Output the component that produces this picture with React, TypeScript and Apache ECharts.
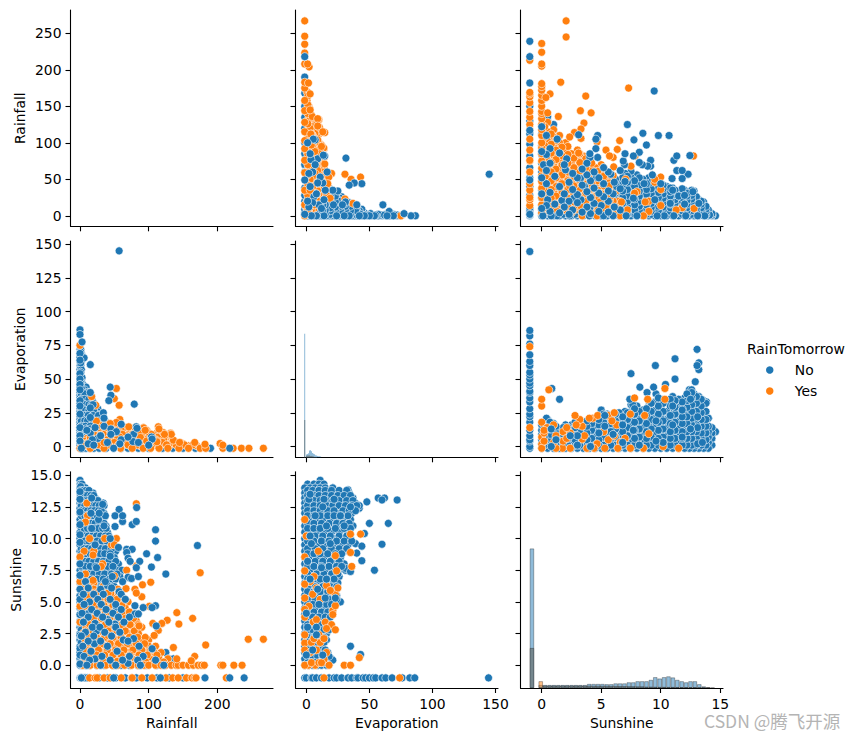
import React, { useEffect, useRef } from "react";
import * as echarts from "echarts";

type Rows = [number, number[]][];
type Pts = [number, number][];

const BLUE = "#1f77b4";
const ORANGE = "#ff7f0e";
const MISSING_EVAP = -1.3;

const rainTicks = [0, 100, 200];
const rainTicksY = [0, 50, 100, 150, 200, 250];
const evapTicks = [0, 50, 100, 150];
const evapTicksY = [0, 25, 50, 75, 100, 125, 150];
const sunTicks = [0, 5, 10, 15];
const sunTicksY = [0, 2.5, 5, 7.5, 10, 12.5, 15];

/* Rainfall against Sunshine: rows are [sunshine, [rainfall...]] */
const rainSunNoBase: Rows = [
  [14.6, [0]], [14.3, [0, 1, 3]], [14, [0, 2, 5, 8]], [13.6, [0, 3, 7, 11, 15, 19]],
  [13.2, [0, 4, 9, 13, 18, 22]], [12.8, [0, 3, 8, 14, 19, 24, 30, 34]], [12.4, [0, 5, 10, 15, 21, 26, 33]],
  [12, [0, 4, 9, 13, 18, 24, 29, 35]], [11.5, [0, 5, 11, 16, 22, 27, 34]], [11, [0, 4, 8, 14, 19, 25, 32, 38]],
  [10.5, [0, 6, 12, 17, 23, 29, 35, 40]], [10, [0, 4, 9, 15, 21, 27, 33, 41, 44]], [9.5, [0, 5, 11, 17, 24, 30, 38, 46]],
  [9, [0, 3, 8, 14, 20, 27, 34, 43, 52]], [8.5, [0, 6, 12, 18, 26, 33, 41, 50]], [8, [0, 4, 10, 16, 23, 30, 38, 47, 56]],
  [7.5, [0, 5, 12, 19, 27, 35, 44, 53, 61]], [7, [0, 3, 9, 16, 24, 32, 41, 50, 58]], [6.5, [0, 6, 13, 21, 30, 39, 48]],
  [6, [0, 4, 10, 18, 27, 36, 46, 55]], [5.5, [0, 5, 13, 22, 32, 44, 60]], [5, [0, 3, 9, 17, 27, 38, 50]],
  [4.5, [0, 6, 14, 24, 36, 48]], [4, [0, 4, 11, 20, 31, 43]], [3.5, [0, 7, 16, 26, 38]], [3, [0, 3, 11, 21, 33]],
  [2.5, [0, 6, 15, 26]], [2, [0, 4, 12, 22]], [1.5, [0, 7, 17]], [1, [0, 3, 11, 105, 118, 125]], [0.5, [0, 6, 14, 130, 136]],
  [0, [0, 3, 8, 14, 24, 35, 48, 60, 72, 84, 96, 112]],
  [-1, [0, 1, 2, 4, 6, 8, 11, 28, 40, 52, 66, 82, 98, 112, 130, 150]],
];
const rainSunNoFill: Rows = [
  [14.1, [1]], [13.8, [1, 5, 9, 13]], [13.4, [1, 6, 11, 16, 20]], [13, [1, 6, 11, 16, 21, 26]], [12.6, [2, 7, 12, 18, 23, 28, 35]],
  [12.2, [2, 7, 11, 16, 21, 27, 31]], [11.8, [2, 7, 11, 16, 20, 25, 31, 37]], [11.2, [2, 7, 12, 17, 22, 29, 35]], [10.8, [2, 6, 11, 16, 21, 27, 33, 38]],
  [10.2, [2, 7, 12, 18, 24, 30, 37, 42]], [9.8, [2, 7, 13, 19, 25, 32, 39]], [9.2, [2, 6, 11, 17, 24, 30, 37, 46]], [8.8, [2, 8, 15, 22, 29, 36, 44]],
  [8.2, [2, 7, 13, 20, 27, 34, 42, 52]], [7.8, [2, 8, 15, 23, 31, 40, 48]], [7.2, [2, 6, 12, 20, 28, 36, 46, 54]], [6.8, [2, 9, 17, 25, 34, 43, 52]],
  [6.2, [2, 7, 14, 22, 31, 41, 50]], [5.8, [2, 8, 16, 26, 36, 48]], [5.2, [2, 6, 13, 22, 32, 44]], [4.8, [2, 9, 18, 29, 41]], [4.2, [2, 7, 15, 25, 36]],
  [3.8, [2, 10, 20, 31]], [3.2, [2, 7, 16, 27]], [2.8, [2, 9, 20]], [2.2, [2, 7, 17]], [1.8, [2, 10]], [1.2, [2, 6]], [0.7, [2, 9]], [0.3, [2, 5, 10]],
];
const rainSunYes: Rows = [
  [12.8, [10]], [11.8, [11]], [11.3, [8]], [10, [14, 36, 53]], [9.5, [46, 50]], [9, [6, 20]], [8.7, [19]], [8, [33]],
  [7.2, [8]], [6.5, [4, 12, 20]],
  [6, [4, 12, 20, 31, 42, 55]], [5.5, [7, 16, 26, 38, 50, 60]], [5, [3, 12, 22, 33, 45, 58, 70]], [4.5, [6, 16, 28, 40, 52, 66]],
  [4, [9, 19, 30, 42, 55, 68, 76]], [3.5, [5, 14, 25, 36, 48, 60, 72, 82]], [3, [9, 19, 30, 42, 55, 66, 78, 90]],
  [2.5, [4, 13, 24, 35, 47, 60, 72, 85]], [2, [8, 18, 30, 42, 54, 66, 78, 90, 100]],
  [1.5, [5, 14, 25, 37, 50, 62, 75, 88, 100, 110]], [1, [3, 11, 21, 33, 46, 58, 70, 83, 95, 108, 118]],
  [0.5, [7, 17, 28, 40, 52, 64, 76, 90, 102, 115, 128]],
  [5.7, [10, 21, 33, 45, 56]], [5.2, [7, 18, 29, 41, 54, 66]], [4.7, [11, 23, 35, 48, 61]], [4.2, [14, 25, 37, 50, 62, 72]],
  [3.7, [10, 20, 31, 43, 55, 66, 78]], [3.2, [14, 25, 37, 49, 61, 73, 85]], [2.7, [9, 19, 30, 41, 54, 66, 79]], [2.2, [13, 24, 36, 48, 60, 72, 84, 95]],
  [1.7, [10, 20, 31, 44, 56, 69, 82, 94]], [1.2, [8, 16, 27, 40, 52, 64, 77, 90, 103]], [0.8, [13, 24, 36, 48, 60, 73, 86, 98, 112]],
  [0.25, [11, 22, 34, 46, 58, 70, 83, 96, 108, 122]],
  [0, [4, 15, 25, 38, 47, 55, 65, 75, 85, 93, 100, 110, 118, 125, 133, 140, 143, 150, 158, 165, 172, 177, 181, 205, 208, 224, 236]],
  [-1, [14, 22, 25, 35, 44, 60, 75, 76, 90, 105, 118, 125, 135, 143, 155, 163, 167, 169, 213]],
  [12.75, [82]], [7.3, [175]], [7.85, [82]], [7.5, [68]], [7.8, [31]], [7.05, [50]], [6.55, [103]], [6.35, [91]],
  [6.05, [67]], [6, [80]], [5.4, [90, 14]], [5.7, [82, 41]], [4.65, [101, 0]], [4.15, [141]], [3.7, [164]], [3.25, [144]],
  [3.55, [127]], [3.3, [119, 106]], [2.75, [114]], [2.35, [108, 41]], [3.1, [86]], [1.4, [136]], [1.6, [183]], [2.05, [245, 267]],
  [0.7, [167]], [0.5, [141]], [0.35, [162]], [6.7, [19]], [6.25, [34]], [6.6, [0]], [8.55, [0]], [3.4, [0]], [4.9, [19]], [5.8, [27]],
  [4.2, [44]], [0.3, [54]],
];
const rainSunNoTop: Rows = [
  [9.45, [171]], [7.2, [125]], [10.7, [110]], [9.8, [110]], [8.5, [113]], [8.8, [97]], [7.75, [104]], [11.1, [76]], [11.35, [82, 62]],
  [12.45, [82.5]], [12.3, [57]], [11.8, [51, 62]], [10.95, [51]], [9.15, [68, 76]], [9.3, [56]], [8.9, [68]], [8.45, [70]], [8.2, [73, 87]],
  [7.7, [82]], [6.95, [70]], [6.85, [75]], [7, [85]], [4.7, [80, 110]], [4.55, [105, 92]], [4.05, [80, 85, 11]], [3.1, [111]], [1.3, [105]],
  [2.1, [78]], [0.15, [70]], [5.8, [57]], [4.6, [53]], [3.25, [51]], [2, [63]], [1.7, [21]], [0.5, [22]], [2.7, [24]], [3.3, [22]],
  [13.7, [0]], [13.1, [0]], [12.1, [0]], [11.1, [0]], [10.3, [0]], [9.7, [0]], [8, [0]], [7.1, [0]], [6, [0, 30]], [5.2, [0]], [4, [0]],
  [2.35, [0]], [1.3, [0]], [0.8, [0]], [0.1, [0]], [13.2, [17]], [10.8, [17]], [11.5, [27]], [12, [28, 16]], [11, [35]], [12.7, [33]],
  [10, [44]], [8.6, [44]], [9.5, [22]], [7, [47]], [6.3, [40]], [5, [14]], [7.7, [24]], [3.6, [40]],
  [-1, [2, 49, 117, 182, 218, 239]],
  [6.6, [8, 37, 62]], [6.1, [12, 46]], [5.6, [5, 20, 34, 60]], [5.2, [26, 44, 66]], [4.8, [6, 31, 52]], [4.4, [17, 38, 60]], [4.1, [3, 25, 48]],
  [3.8, [12, 33, 56, 72]], [3.4, [5, 42, 64]], [3, [18, 29, 52]], [2.6, [8, 36, 58]], [2.3, [2, 20, 46]], [1.9, [12, 30, 70]], [1.5, [4, 40, 86]],
  [1.1, [16, 54]], [0.7, [6, 32, 72, 92]], [0.4, [14, 44, 62, 84, 110]], [0, [10, 30, 52, 88, 122]],
];

/* Rainfall against Evaporation: rows are [evaporation, [rainfall...]] */
const rainEvapNoBase: Rows = [
  [75, [0]], [72, [0, 1]], [69, [0, 2]], [66, [0]], [63, [0, 2]], [60, [0, 1]], [57, [0, 2]], [54, [0, 1]], [51, [0, 3]], [48, [0, 2]],
  [46, [0, 4]], [44, [0, 5, 9]], [42, [0, 3, 7]], [40, [0, 4, 10, 14]], [38, [0, 6, 12]], [36, [0, 3, 9, 15]], [34, [0, 5, 11, 18]],
  [32, [0, 3, 8, 14, 20]], [30, [0, 5, 11, 18, 23]], [28, [0, 3, 8, 15, 22, 26]], [26, [0, 5, 11, 18, 25]], [24, [0, 3, 9, 16, 24, 31]],
  [22, [0, 6, 13, 21, 29, 34]], [20, [0, 3, 9, 17, 25, 33]], [18, [0, 6, 13, 21, 30, 38]], [16, [0, 3, 10, 18, 27, 36, 42]],
  [14, [0, 6, 14, 23, 33, 44, 50]], [12, [0, 3, 10, 19, 29, 40, 52]], [10, [0, 6, 14, 24, 35, 47, 58, 70]], [8, [0, 3, 10, 19, 30, 42, 55, 68]],
  [6, [0, 6, 15, 26, 38, 50, 64, 80]], [4, [0, 3, 11, 21, 33, 46, 60, 76, 92]], [2, [0, 7, 16, 28, 41, 56, 72, 90]], [0.5, [0, 4, 12, 24, 38, 52]],
  [-1, [0, 1, 2, 5, 9, 14, 20, 28, 38, 60, 70, 85, 100, 120, 135, 150, 168, 190]],
];
const rainEvapNoFill: Rows = [
  [70, [1]], [62, [1]], [55, [1]], [47, [1]], [43, [2]], [39, [2, 7]], [35, [2, 7, 13]], [31, [2, 7, 13, 17]], [27, [2, 7, 13, 20]], [23, [2, 7, 12, 19, 27]],
  [19, [2, 7, 11, 19, 27, 35]], [15, [2, 8, 15, 24, 32, 40, 47]], [13, [2, 8, 15, 24, 35, 46]], [11, [2, 8, 17, 27, 38, 50, 62]], [9, [2, 8, 16, 26, 38, 50, 62]],
  [7, [2, 9, 19, 31, 44, 58, 72]], [5, [2, 8, 17, 28, 42, 56, 70, 84]], [3, [2, 6, 13, 24, 37, 50, 66, 82]], [1.2, [2, 9, 20, 34, 48, 64]],
];
const rainEvapYes: Rows = [
  [16, [28, 40, 55]], [14, [25, 38, 52, 66, 80, 92]], [12, [22, 35, 48, 60, 74, 86, 97]], [10, [18, 30, 44, 58, 72, 85, 100, 112, 122, 132]],
  [8, [14, 26, 40, 54, 68, 82, 96, 110, 124]], [6, [10, 22, 36, 50, 64, 78, 92, 106, 118, 130]],
  [4, [8, 18, 30, 44, 58, 72, 86, 100, 114, 128, 138]], [2, [5, 14, 26, 40, 54, 68, 82, 96, 110, 124, 138, 150]],
  [0.5, [3, 10, 20, 32, 46, 60, 74, 88, 102, 116, 130, 144, 158, 170]],
  [9, [20, 34, 48, 62, 76, 90, 104, 118]], [7, [16, 30, 44, 58, 72, 86, 100, 114, 126]], [5, [15, 26, 40, 54, 68, 82, 96, 110, 122, 134]],
  [3, [12, 24, 36, 50, 64, 78, 92, 106, 120, 134, 146]], [1.2, [8, 17, 28, 42, 56, 70, 84, 98, 112, 126, 140, 152, 164]],
  [-1, [0, 15, 35, 59, 76, 92, 103, 115, 128, 144, 158, 175, 183, 208, 223, 235, 246, 267]],
  [75, [0]], [43, [53]], [35.5, [50]], [37, [17]], [30.6, [23, 57]], [20, [58]], [17.8, [53]], [18.8, [24]], [14.6, [114, 71]], [13.8, [93]],
  [10.4, [121]], [9.6, [132]], [17, [44]], [11, [87]], [6.7, [88]], [4.7, [136]], [3, [145, 167, 35]], [1.7, [182]], [2.2, [204]], [1, [208]],
  [4.2, [112]], [4, [97]], [8.4, [30]], [6.4, [15]], [12, [95]], [9, [133, 123]], [3.5, [112]], [13, [115]],
];
const rainEvapNoTop: Rows = [
  [145, [57]], [86.5, [0]], [83, [0]], [77.5, [3]], [65.7, [6]], [60.7, [15]], [69, [0]], [64, [0]], [54, [0]], [50, [0]], [46, [0]], [42, [0]],
  [34, [0]], [30, [0]], [24, [0]], [14, [0]], [8, [0]], [4, [0]], [44, [44]], [38, [45]], [34, [42]], [31.4, [79]], [40, [15]], [31, [19]],
  [28.6, [15]], [21.5, [15]], [25, [34]], [21, [35]], [15, [35]], [13, [45]], [11, [53]], [14.6, [82]], [9, [78]], [7, [104]], [13.5, [83]], [5.5, [105]],
  [16.5, [60]], [3.7, [77]], [10, [15]], [6, [26]], [3, [40]], [12, [10]], [5, [18]], [8, [30]], [2, [12]], [14, [22]], [9, [45]], [5, [60]], [1, [20]],
  [7, [70]], [2, [58]], [3, [85]], [1, [100]], [-1, [2, 49, 218]],
];

/* Evaporation against Sunshine: rows are [sunshine, [evaporation...]] */
const evapSunNoBase: Rows = [
  [14.6, [11]], [14.3, [1, 6, 10, 14]], [14, [-1, 3, 7, 11, 15, 21]], [13.6, [-1, 3, 8, 13, 18, 23, 30, 34]], [13.2, [-1, 3, 8, 12, 17, 22, 27, 32, 37]],
  [12.8, [-1, 4, 9, 14, 19, 24, 29, 35, 39]], [12.4, [-1, 3, 8, 13, 18, 23, 28, 33, 38, 42]], [12, [-1, 4, 9, 15, 20, 26, 31, 36]],
  [11.5, [-1, 3, 8, 14, 19, 25, 30, 35]], [11, [-1, 4, 10, 15, 21, 27, 32, 37]], [10.5, [-1, 3, 8, 14, 20, 26, 33]], [10, [-1, 4, 10, 16, 22, 29, 35]],
  [9.5, [-1, 3, 9, 15, 21, 27, 33]], [9, [-1, 5, 10, 17, 23, 30]], [8.5, [-1, 3, 8, 14, 20, 26]], [8, [-1, 4, 10, 16, 22, 30]],
  [7.5, [-1, 3, 9, 15, 21, 26, 31]], [7, [-1, 5, 11, 17, 23, 26]], [6.5, [-1, 3, 8, 14, 20, 25]], [6, [-1, 4, 10, 16, 22]], [5.5, [-1, 3, 8, 14, 19, 24]],
  [5, [-1, 4, 10, 15, 21, 27]], [4.5, [-1, 3, 8, 13, 18]], [4, [-1, 4, 9, 14, 19]], [3.5, [-1, 3, 7, 12, 17]], [3, [-1, 4, 9, 13, 18]],
  [2.5, [-1, 3, 7, 11, 16]], [2, [-1, 4, 8, 12, 16]], [1.5, [-1, 3, 7, 11]], [1, [-1, 4, 8, 13, 17]], [0.5, [-1, 3, 7, 11, 15, 20]], [0, [-1, 2, 5, 9, 12, 16]],
  [13.2, [57, 62]], [13.05, [60, 72]], [13.85, [33]], [14, [21]], [12.6, [42]], [12.9, [48]], [11.2, [50, 65]], [10.4, [46]], [9.55, [60]], [9.6, [39]],
  [9.4, [44]], [9.05, [33]], [8.85, [40]], [8.5, [27]], [8.25, [44]], [7.5, [54]], [7.65, [31]], [7.4, [35]], [1.5, [35]], [0.85, [43]], [0.4, [21]],
  [5, [27]], [6, [24]],
  [-1, [-1, 0, 4, 5, 8, 12, 18, 22, 24, 28, 33, 36, 40, 41, 45, 47, 50, 53, 55, 60, 63, 68, 76, 82, 86, 144.5]],
];
const evapSunNoFill: Rows = [
  [13.8, [1, 5, 10, 15, 20, 26, 32]], [13.4, [1, 6, 10, 15, 20, 25, 30, 35]], [13, [1, 6, 11, 16, 21, 26, 32, 37]], [12.6, [1, 6, 11, 16, 21, 26, 31, 36, 40]],
  [12.2, [1, 6, 11, 17, 22, 29, 34, 39]], [11.8, [1, 6, 11, 17, 22, 28, 33]], [11.2, [1, 6, 12, 18, 24, 29, 34]], [10.8, [1, 6, 11, 17, 23, 30, 35]],
  [10.2, [1, 7, 13, 19, 26, 32]], [9.8, [1, 6, 12, 18, 24, 30, 36]], [9.2, [1, 7, 13, 20, 26, 32]], [8.8, [1, 6, 11, 17, 23, 28]], [8.2, [1, 7, 13, 19, 26]],
  [7.8, [1, 6, 12, 18, 24, 28]], [7.2, [1, 8, 14, 20, 25]], [6.8, [1, 6, 11, 17, 22]], [6.2, [1, 7, 13, 19, 24]], [5.8, [1, 6, 11, 17, 21]], [5.2, [1, 7, 12, 18, 24]],
  [4.8, [1, 5, 11, 16, 20]], [4.2, [1, 6, 12, 17]], [3.8, [1, 5, 10, 15, 19]], [3.2, [1, 6, 11, 16]], [2.8, [1, 5, 9, 14, 18]], [2.2, [1, 6, 10, 14]],
  [1.8, [1, 5, 9, 14]], [1.2, [1, 6, 10, 15]], [0.7, [1, 5, 9, 13, 18]], [0.2, [1, 4, 7, 11, 14]],
];
const evapSunYes: Rows = [
  [10.35, [43, 35]], [8.9, [35]], [8.65, [23]], [7.8, [36]], [7.45, [24]], [0.6, [42]], [0, [30, 35, 18, 7, 1.6, -1]], [4.3, [21]], [4, [21]], [3.4, [15, 5.5]],
  [3.2, [20]], [2.8, [23]], [4.65, [2]], [6.6, [3]], [8.55, [-1]], [9, [9.5]], [7.45, [-1]], [1.75, [-1]], [1.8, [4, 11]], [0.45, [14]],
  [5.6, [5, 23]], [6.1, [8, 25]], [7, [6]], [5.2, [11]], [3.8, [-1]], [2.4, [-1, 10]], [1.2, [-1, 8]], [-1, [14, 74]],
  [11.5, [-1]], [10.2, [0]], [6.4, [-1]], [5.3, [-1]], [4.4, [-1]],
  [6.3, [16]], [5.9, [19]], [4.7, [23]], [3.6, [8]], [2.9, [16]], [2.1, [6, 14]], [1, [3, 16]], [0.2, [4, 10, 12]],
];
const evapSunNoTop: Rows = [
  [13.1, [2, 14, 22]], [13.5, [3]], [12.5, [13, 35]], [11.8, [7, 27]], [11, [16, 30]], [10.2, [3]], [9.6, [4, 19]], [8.2, [1]],
  [7.7, [12]], [6.8, [3, 16]], [6, [9]], [5.3, [15, 23]], [4.8, [10]], [4.1, [0]], [3, [1, 8]], [2.4, [8]], [1.2, [5]], [0.8, [0, 13]],
];

const sunBins = [-0.82, -0.45, -0.08, 0.29, 0.66, 1.03, 1.4, 1.77, 2.14, 2.51, 2.88, 3.25, 3.62, 3.99, 4.36, 4.73, 5.1, 5.47, 5.84, 6.21, 6.58, 6.95, 7.32, 7.69, 8.06, 8.43, 8.8, 9.17, 9.54, 9.91, 10.28, 10.65, 11.02, 11.39, 11.76, 12.13, 12.5, 12.87, 13.24, 13.61, 13.98, 14.35];
const sunNo = [51600, 0, 1100, 1100, 1100, 1100, 1100, 1100, 1100, 1100, 1100, 1100, 1100, 1500, 1500, 1500, 1500, 1400, 1400, 1700, 1700, 1700, 2100, 2100, 2500, 2500, 2500, 3000, 4000, 3500, 4000, 4300, 3900, 3000, 2500, 2100, 2500, 2500, 1400, 600, 250, 120];
const sunYes = [14800, 0, 2500, 900, 900, 900, 900, 900, 900, 900, 900, 900, 850, 850, 800, 800, 800, 800, 750, 750, 700, 700, 650, 650, 600, 600, 500, 500, 450, 400, 400, 380, 380, 350, 300, 280, 280, 250, 150, 80, 30, 0];
const evapBins = [-1.3, 0.1, 0.9, 1.7, 2.5, 3.3, 4.1, 4.9, 5.7, 6.5, 7.3, 8.1, 8.9, 9.7, 10.5, 11.3];
const evapNo = [45700, 1000, 1250, 1500, 2500, 2600, 2200, 1600, 1350, 1100, 750, 620, 500, 370, 370, 250];
const evapYes = [13800, 600, 620, 620, 620, 500, 450, 350, 250, 120, 120, 100, 60, 60, 30, 30];

const FONT = "DejaVu Sans";
const expand = (rows: Rows): Pts => rows.flatMap(([b, as]) => as.map((a) => [a, b] as [number, number]));
const swap = (p: Pts): Pts => p.map(([a, b]) => [b, a] as [number, number]);
const fixEvap = (rows: Rows): Rows => rows.map(([b, as]) => [b, as.map((a) => (a === -1 ? MISSING_EVAP : a))]);
const fixEvapRows = (rows: Rows): Rows => rows.map(([b, as]) => [b === -1 ? MISSING_EVAP : b, as]);

const colLeft = [70.5, 295.5, 520.5];
const rowTop = [10, 241, 471.7];
const PANEL_W = 202.5;
const PANEL_H = 216.3;

const xDefs = [
  { name: "Rainfall", min: -13.8, max: 281, ticks: rainTicks, digits: 0 },
  { name: "Evaporation", min: -8.6, max: 152, ticks: evapTicks, digits: 0 },
  { name: "Sunshine", min: -1.78, max: 15.23, ticks: sunTicks, digits: 0 },
];
const yDefs = [
  { name: "Rainfall", min: -14.4, max: 281.9, ticks: rainTicksY, digits: 0, gap: 44 },
  { name: "Evaporation", min: -8, max: 152.3, ticks: evapTicksY, digits: 0, gap: 44 },
  { name: "Sunshine", min: -1.8, max: 15.28, ticks: sunTicksY, digits: 1, gap: 48 },
];

function buildOption() {
  const grid: any[] = [];
  const xAxis: any[] = [];
  const yAxis: any[] = [];
  const series: any[] = [];
  const line = { show: true, onZero: false, lineStyle: { color: "#000", width: 1.1 } };

  for (let r = 0; r < 3; r++) {
    for (let c = 0; c < 3; c++) {
      const gi = r * 3 + c;
      grid.push({ left: colLeft[c], top: rowTop[r], width: PANEL_W, height: PANEL_H });
      const xd = xDefs[c];
      const yd = yDefs[r];
      xAxis.push({
        type: "value", gridIndex: gi, min: xd.min, max: xd.max, splitLine: { show: false },
        axisLine: line,
        axisTick: { show: true, length: 5, customValues: xd.ticks, lineStyle: { color: "#000", width: 1.1 } },
        axisLabel: {
          show: r === 2, customValues: xd.ticks, margin: 9, color: "#000", fontFamily: FONT, fontSize: 13.9,
          hideOverlap: false, showMinLabel: true, showMaxLabel: true,
        },
        name: r === 2 ? xd.name : "", nameLocation: "middle", nameGap: 28,
        nameTextStyle: { color: "#000", fontFamily: FONT, fontSize: 13.9 },
      });
      yAxis.push({
        type: "value", gridIndex: gi, min: yd.min, max: yd.max, splitLine: { show: false },
        axisLine: line,
        axisTick: { show: true, length: 5, customValues: yd.ticks, lineStyle: { color: "#000", width: 1.1 } },
        axisLabel: {
          show: c === 0, customValues: yd.ticks, margin: 9, color: "#000", fontFamily: FONT, fontSize: 13.9,
          formatter: (v: number) => v.toFixed(yd.digits), showMinLabel: true, showMaxLabel: true,
        },
        name: c === 0 ? yd.name : "", nameLocation: "middle", nameGap: yd.gap,
        nameTextStyle: { color: "#000", fontFamily: FONT, fontSize: 13.9 },
      });
    }
  }

  const scatter = (gi: number, name: string, color: string, data: Pts) =>
    series.push({
      type: "scatter", name, xAxisIndex: gi, yAxisIndex: gi, data, symbol: "circle", symbolSize: 8, silent: true,
      itemStyle: { color, borderColor: "#fff", borderWidth: 0.6, opacity: 1 },
    });
  const panel = (gi: number, base: Pts, yes: Pts, top: Pts) => {
    scatter(gi, "No", BLUE, base);
    scatter(gi, "Yes", ORANGE, yes);
    scatter(gi, "No", BLUE, top);
  };

  const rs = [expand([...rainSunNoBase, ...rainSunNoFill]), expand(rainSunYes), expand(rainSunNoTop)];
  const re = [expand(fixEvapRows([...rainEvapNoBase, ...rainEvapNoFill])), expand(fixEvapRows(rainEvapYes)), expand(fixEvapRows(rainEvapNoTop))];
  const es = [expand(fixEvap([...evapSunNoBase, ...evapSunNoFill])), expand(fixEvap(evapSunYes)), expand(fixEvap(evapSunNoTop))];

  panel(1, swap(re[0]), swap(re[1]), swap(re[2]));
  panel(2, swap(rs[0]), swap(rs[1]), swap(rs[2]));
  panel(3, re[0], re[1], re[2]);
  panel(5, swap(es[0]), swap(es[1]), swap(es[2]));
  panel(6, rs[0], rs[1], rs[2]);
  panel(7, es[0], es[1], es[2]);

  const hist = (gi: number, bins: number[], no: number[], yes: number[], width: number, edge: boolean) => {
    const yi = yAxis.length;
    yAxis.push({ type: "value", gridIndex: gi, show: false, min: 0, max: 80000, splitLine: { show: false } });
    const border = { borderColor: edge ? "rgba(0,0,0,0.4)" : "transparent", borderWidth: edge ? 0.75 : 0 };
    series.push({
      type: "bar", name: "No", xAxisIndex: gi, yAxisIndex: yi, barWidth: width, barGap: "-100%", silent: true,
      data: bins.map((b, i) => [b, no[i] > 0 ? no[i] : null]),
      itemStyle: { color: "rgba(31,119,180,0.5)", ...border },
    });
    series.push({
      type: "bar", name: "Yes", xAxisIndex: gi, yAxisIndex: yi, barWidth: width, barGap: "-100%", silent: true,
      data: bins.map((b, i) => ({
        value: [b, yes[i] > 0 ? yes[i] : null],
        itemStyle: { color: yes[i] > no[i] ? "rgba(255,127,14,0.5)" : "#75878e" },
      })),
      itemStyle: { ...border },
    });
  };
  hist(4, evapBins, evapNo, evapYes, 1, false);
  hist(8, sunBins, sunNo, sunYes, 4.4, true);

  return {
    animation: false,
    backgroundColor: "#fff",
    grid, xAxis, yAxis, series,
    legend: {
      left: 759, top: 358, orient: "vertical", itemWidth: 40, itemHeight: 9.5, itemGap: 7, selectedMode: false,
      textStyle: { color: "#000", fontFamily: FONT, fontSize: 13.9 },
      data: [
        { name: "No", icon: "circle", itemStyle: { color: BLUE } },
        { name: "Yes", icon: "circle", itemStyle: { color: ORANGE } },
      ],
    },
    graphic: [
      { type: "text", left: 747, top: 342, style: { text: "RainTomorrow", fill: "#000", font: `13.9px "${FONT}"` } },
      { type: "text", left: 704, top: 712, style: { text: "CSDN @腾飞开源", fill: "#b4b4b4", font: '17.5px "Noto Sans CJK SC"' } },
    ],
  };
}

export default function App() {
  const ref = useRef<HTMLDivElement>(null);
  useEffect(() => {
    document.body.style.margin = "0";
    const chart = echarts.init(ref.current!, undefined, { renderer: "svg" });
    chart.setOption(buildOption() as any);
    return () => chart.dispose();
  }, []);
  return <div ref={ref} style={{ width: 856, height: 741 }} />;
}
